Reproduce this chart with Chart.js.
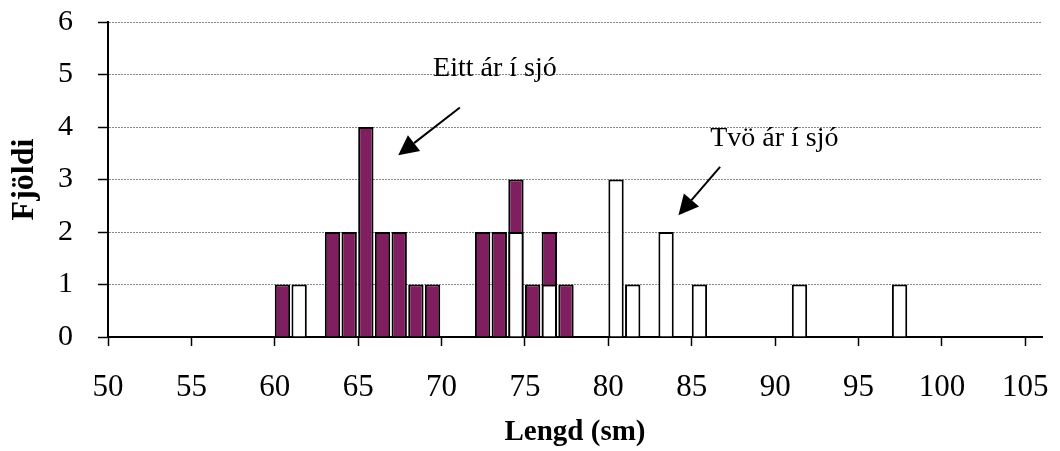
<!DOCTYPE html>
<html>
<head>
<meta charset="utf-8">
<script src="https://cdn.jsdelivr.net/npm/chart.js@4.4.1/dist/chart.umd.min.js"></script>
<style>
  html, body { margin: 0; padding: 0; background: #fff; }
  #wrap { width: 1060px; height: 451px; }
</style>
</head>
<body>
<div id="wrap"><canvas id="lengdChart"></canvas></div>
<script>
// Lengdardreifing (1 sm bil) - fjöldi fiska eftir lengd
var eittLengd  = [60, 63, 64, 65, 66, 67, 68, 69, 72, 73, 74, 75, 76, 77];
var eittFjoldi = [1, 2, 2, 4, 2, 2, 1, 1, 2, 2, 3, 1, 2, 1];
var tvoLengd   = [61, 74, 76, 80, 81, 83, 85, 91, 97];
var tvoFjoldi  = [1, 2, 1, 3, 1, 2, 1, 1, 1];
var xTicks = [50, 55, 60, 65, 70, 75, 80, 85, 90, 95, 100, 105];
var yTicks = [0, 1, 2, 3, 4, 5, 6];

// texti og örvar, í hnitum grafsins
var notes = [
  { text: 'Eitt ár í sjó', x: 73.2, y: 4.98, from: [71.1, 4.37], to: [67.4, 3.46] },
  { text: 'Tvö ár í sjó', x: 89.95, y: 3.63, from: [86.7, 3.24], to: [84.2, 2.32] }
];

function binPoints(lengd, fjoldi) {
  return lengd.map(function (l, i) { return { x: l + 0.46, y: fjoldi[i] }; });
}

var serif = "'Liberation Serif', 'Times New Roman', serif";
Chart.defaults.font.family = serif;
Chart.defaults.color = '#000';

var notePlugin = {
  id: 'notes',
  afterDraw: function (chart) {
    var ctx = chart.ctx, xs = chart.scales.x, ys = chart.scales.y;
    ctx.save();
    notes.forEach(function (n) {
      ctx.font = '28px ' + serif;
      ctx.fillStyle = '#000';
      ctx.textAlign = 'center';
      ctx.textBaseline = 'alphabetic';
      ctx.fillText(n.text, xs.getPixelForValue(n.x), ys.getPixelForValue(n.y));

      var x1 = xs.getPixelForValue(n.from[0]), y1 = ys.getPixelForValue(n.from[1]);
      var x2 = xs.getPixelForValue(n.to[0]), y2 = ys.getPixelForValue(n.to[1]);
      var ang = Math.atan2(y2 - y1, x2 - x1);
      var head = 20, half = 10;
      var bx = x2 - head * Math.cos(ang), by = y2 - head * Math.sin(ang);
      ctx.strokeStyle = '#000';
      ctx.lineWidth = 2;
      ctx.beginPath();
      ctx.moveTo(x1, y1);
      ctx.lineTo(bx, by);
      ctx.stroke();
      ctx.beginPath();
      ctx.moveTo(x2, y2);
      ctx.lineTo(bx + half * Math.sin(ang), by - half * Math.cos(ang));
      ctx.lineTo(bx - half * Math.sin(ang), by + half * Math.cos(ang));
      ctx.closePath();
      ctx.fill();
    });
    ctx.restore();
  }
};

var barOpts = { grouped: false, barPercentage: 0.92, categoryPercentage: 1, borderColor: '#000', borderWidth: 2 };

var ctx = document.getElementById('lengdChart').getContext('2d');
var lengdChart = new Chart(ctx, {
  type: 'bar',
  data: {
    datasets: [
      Object.assign({ label: 'Tvö ár í sjó', data: binPoints(tvoLengd, tvoFjoldi), backgroundColor: '#ffffff', order: 0 }, barOpts),
      Object.assign({ label: 'Eitt ár í sjó', data: binPoints(eittLengd, eittFjoldi), backgroundColor: '#7f1f5f', order: 1 }, barOpts)
    ]
  },
  options: {
    responsive: true,
    maintainAspectRatio: false,
    animation: false,
    layout: { padding: { top: 0, right: 18, bottom: 0, left: 0 } },
    plugins: {
      legend: { display: false },
      tooltip: { enabled: false }
    },
    scales: {
      x: {
        type: 'linear',
        min: 50,
        max: 106,
        offset: false,
        afterBuildTicks: function (scale) {
          scale.ticks = xTicks.map(function (v) { return { value: v }; });
        },
        afterFit: function (scale) {
          scale.height = 114;
          scale.paddingLeft = 0;
          scale.paddingRight = 0;
        },
        ticks: { font: { size: 31 }, padding: 23, maxRotation: 0, autoSkip: false },
        grid: { offset: false, drawOnChartArea: false, drawTicks: true, tickLength: 9, tickColor: '#000', tickWidth: 1.5 },
        border: { color: '#000', width: 2 },
        title: {
          display: true,
          text: 'Lengd (sm)',
          font: { size: 29, weight: 'bold' },
          padding: { top: 0, bottom: 1 }
        }
      },
      y: {
        min: 0,
        max: 6,
        afterBuildTicks: function (scale) {
          scale.ticks = yTicks.map(function (v) { return { value: v }; });
        },
        afterFit: function (scale) { scale.width = 108; scale.paddingTop = 22; },
        ticks: { font: { size: 30 }, padding: 25 },
        grid: { color: '#888', lineWidth: 1, tickLength: 10, tickColor: '#000', tickWidth: 1.5 },
        border: { color: '#000', width: 2, dash: [2, 1] },
        title: {
          display: true,
          text: 'Fjöldi',
          font: { size: 32, weight: 'bold' },
          padding: { top: 6, bottom: 0 }
        }
      }
    }
  },
  plugins: [notePlugin]
});
</script>
</body>
</html>
